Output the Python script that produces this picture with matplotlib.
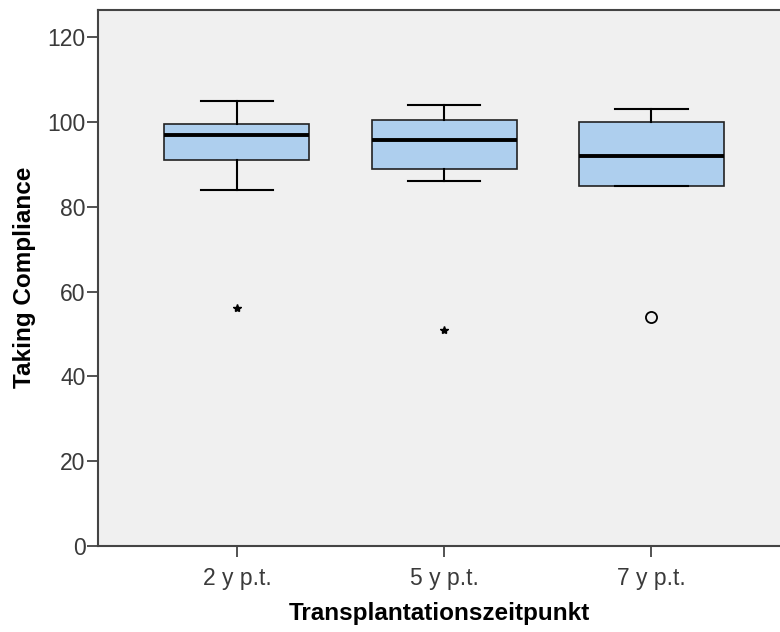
import matplotlib
matplotlib.use("Agg")
import matplotlib.pyplot as plt

plt.rcParams['font.family'] = ['Liberation Sans', 'DejaVu Sans']

# data
groups = ["2 y p.t.", "5 y p.t.", "7 y p.t."]
whisk_lo = [84, 86, 85]
q1 = [91, 89, 85]
median = [97, 95.7, 92]
q3 = [99.6, 100.5, 100]
whisk_hi = [105, 104, 103]
extremes = [[56], [51], []]   # drawn as stars
outliers = [[], [], [54]]     # drawn as circles

stats = []
for i, g in enumerate(groups):
    stats.append({"label": g, "whislo": whisk_lo[i], "q1": q1[i], "med": median[i],
                  "q3": q3[i], "whishi": whisk_hi[i], "fliers": []})

fig = plt.figure(figsize=(7.8, 6.32), dpi=100)
ax = fig.add_axes([98 / 780, 86 / 632, 1 - 98 / 780, (546 - 9.5) / 632])
ax.set_facecolor("#f0f0f0")

pos = [1, 2, 3]
ax.bxp(stats, positions=pos, widths=0.7, patch_artist=True, showfliers=False,
       boxprops=dict(facecolor="#aecfee", edgecolor="#222222", linewidth=1.2),
       medianprops=dict(color="black", linewidth=2.8),
       whiskerprops=dict(color="black", linewidth=1.5),
       capprops=dict(color="black", linewidth=1.5),
       capwidths=0.35)

for i in range(3):
    if extremes[i]:
        ax.plot([pos[i]] * len(extremes[i]), extremes[i], marker="*", linestyle="none",
                color="black", markersize=6)
    if outliers[i]:
        ax.plot([pos[i]] * len(outliers[i]), outliers[i], marker="o", linestyle="none",
                markerfacecolor="none", markeredgecolor="black", markersize=8, markeredgewidth=1.3)

ax.set_xlim(0.33, 3.62)
ax.set_ylim(0, 126.5)
ax.set_yticks([0, 20, 40, 60, 80, 100, 120])
ax.set_xticks(pos)
ax.set_xticklabels(groups)

ax.spines["right"].set_visible(False)
for s in ["left", "bottom", "top"]:
    ax.spines[s].set_color("#444444")
    ax.spines[s].set_linewidth(1.5)

ax.tick_params(axis="both", colors="#444444", labelcolor="#3a3a3a", labelsize=16.5,
               length=8, width=1.3)
ax.tick_params(axis="y", pad=1)
ax.tick_params(axis="x", pad=7)

ax.set_xlabel("Transplantationszeitpunkt", fontsize=17.5, fontweight="bold", labelpad=9)
ax.set_ylabel("Taking Compliance", fontsize=17.5, fontweight="bold", labelpad=8)

fig.savefig("out.png", dpi=100)
